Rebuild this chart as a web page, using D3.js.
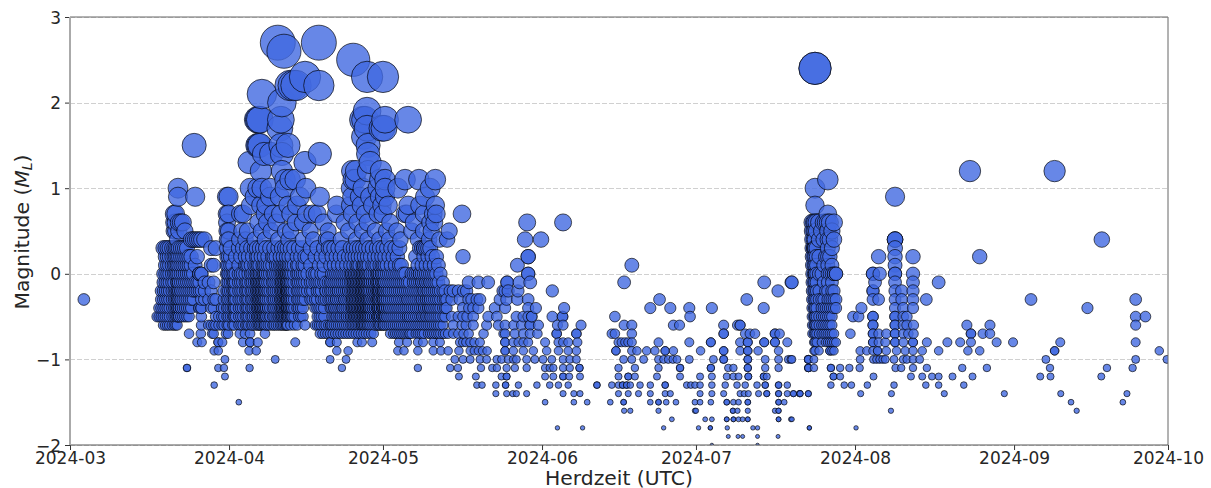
<!DOCTYPE html>
<html><head><meta charset="utf-8">
<script src="https://cdn.jsdelivr.net/npm/d3@7"></script>
<style>html,body{margin:0;padding:0;background:#fff}svg{display:block}text{font-family:"DejaVu Sans",sans-serif;fill:#262626}</style>
</head><body><svg id="c" width="1211" height="488"></svg>
<script>
// Values. Time = days since 2024-03-01, magnitude = tenths of M_L.
const monthTicks = ["2024-03","2024-04","2024-05","2024-06","2024-07","2024-08","2024-09","2024-10"];
const magnitudeTicks = [3,2,1,0,-1,-2];

// Columns: [day, magnitudes…]
const marchColumns = [
[2.7,-3],[17.0,-5],[17.4,-5,-4],[17.8,-5,-4,-3,-2],
[18.2,-6,-5,-4,-3,-2,-1,0,3],[18.6,-6,-5,-4,-3,-2,-1,0,1,2,3],[19.0,-6,-5,-4,-3,-2,-1,0,1,2,3],
[19.4,-6,-5,-4,-3,-2,-1,0,1,2,3],[19.9,-6,-5,-4,-3,-2,-1,0,1,2,3],[20.3,-6,-5,-4,-3,-2,-1,0,1,2,3,5,6,7],
[20.6,-6,-5,-4,-3,-2,0,1,2,3,5,6,7],[20.9,-6,-5,-5,-4,-4,-3,-3,-2,-2,-1,-1,0,1,2,3,4],
[21.2,-5,-5,-4,-4,-3,-3,-2,-2,-1,-1,0,1,2,3,5,6],[21.6,-5,-4,-4,-3,-3,-2,-2,-1,0,1,2,3,6],
[22.0,-5,-4,-3,-2,-1,0,1,2,3,6],[22.4,-5,-4,-3,-2,-1,0,1,2,3,5],[22.8,-11,-11,-5,-4,-3,-2,-1,0,1,2,3],
[23.2,-5,-4,-3,-2,-1,0,1,2],[23.6,-4,-3,-2,-1,0,1,2,4],[24.0,-3,-2,-1,0,4],[24.4,-2,-1,1,4],[24.8,-2,-1,2,4],
[25.2,-4,-4,-2,-1,0,0,0,4],[25.6,-6,-5,-4,-4,-3,-2,0,0,4],[26.2,-3,-2,-1,4],[27,-6,-3,-1],[27.5,-6,-4,-2,1,3],
[28.0,-7,-6,-4,-3,-1,1],[28.4,-6,-5,-3,3],[29.0,-6,-5],[29.6,-6,-5,-4],[30.0,-6,-5,-4,-3,-2]
];
const aprilColumns = [
[30.6,-6,-5,-4,-3,-2,-1,0,1,2,3],[30.9,-6,-5,-4,-3,-2,-1,0,0,1,2],
[31.3,-5,-4,-3,-2,-1,0,1,2,3],[31.7,-6,-5,-4,-3,-2,-1,0,1],[32.0,-6,-5,-5,-4,-4,-3,-3,-2,-2,-1,-1,0],
[32.3,-5,-4,-3,-2,-1,0,2],[32.9,-6,-5,-4,-3,-2,-1,0,1,3],[33.3,-6,-5,-4,-3,-2,-1,0,2],
[33.7,-6,-5,-4,-3,-2,-1,0,3],[34.2,-6,-5,-4,-3,-2,-1,0,1,2],[34.5,-6,-5,-4,-3,-2,-1,1,3],
[34.8,-6,-5,-4,-3,-2,-1,0,1,2],[35.3,-6,-5,-4,-3,-2,-1,0,1,3],[35.6,-6,-5,-4,-3,-2,-1,0,2],
[36.0,-6,-5,-4,-3,-2,-1,0,1,3],[36.4,-6,-5,-5,-4,-4,-3,-3,-2,-2,-1,-1,0,0,1,2,3],
[36.7,-6,-5,-5,-4,-4,-3,-3,-2,-2,-1,-1,0,1,2],[37.0,-6,-6,-5,-5,-4,-4,-3,-3,-3,-2,-2,-1,-1,0,0,1,3],
[37.3,-6,-5,-5,-4,-4,-4,-3,-3,-2,-2,-2,-1,-1,0,2],[37.6,-6,-5,-5,-5,-4,-4,-3,-3,-3,-2,-2,-1,-1,0,1,3],
[37.9,-6,-6,-5,-5,-4,-4,-3,-3,-2,-2,-1,-1,0,0,1,2],[38.2,-6,-5,-5,-4,-4,-3,-3,-2,-2,-1,-1,0,0,1,3],
[38.6,-6,-5,-4,-4,-3,-2,-2,-1,0,1,2],[39.0,-6,-5,-5,-4,-3,-2,-1,0,1,3],
[39.5,-6,-5,-4,-3,-2,-1,0,1,2],[39.8,-6,-5,-4,-3,-2,-1,0,2,3],[40.2,-6,-5,-4,-3,-2,-1,0,1,2],
[40.6,-6,-5,-5,-4,-3,-2,-1,0,1,3],[41.0,-6,-5,-5,-4,-4,-3,-3,-2,-1,0,1,2],
[41.3,-6,-5,-5,-4,-4,-3,-3,-2,-2,-1,-1,0,1,3],[41.6,-6,-5,-5,-4,-4,-3,-3,-2,-2,-1,-1,0,0,1,2],
[41.9,-6,-5,-5,-4,-4,-3,-3,-3,-2,-2,-1,-1,0,0,1,1,3],[42.2,-6,-6,-5,-5,-4,-4,-4,-3,-3,-3,-2,-2,-2,-1,-1,0,0,1,2],
[42.4,-6,-5,-5,-5,-4,-4,-4,-3,-3,-3,-2,-2,-2,-1,-1,-1,0,0,1,3],[42.7,-5,-5,-4,-4,-4,-3,-3,-3,-2,-2,-2,-1,-1,0,0,1,1,2],
[43.0,-6,-5,-5,-4,-4,-3,-3,-2,-2,-1,-1,0,0,1,3],[43.3,-5,-5,-4,-4,-3,-3,-2,-2,-1,0,1,2],
[43.7,-6,-5,-4,-3,-2,-1,0,1,3],[44.3,-6,-4,-3,-2,-1,0,1,2],[44.6,-5,-4,-3,-2,-1,0,1,3],
[45.0,-5,-4,-3,-2,-1,0,2],[45.4,-5,-4,-3,-2,-1,0,1,3],[45.8,-6,-3,-2,-1,0,1,2],
[46.3,-2,-1,0,2],[46.9,-3,-2,-1,1,3],[47.3,-3,-2,-1,0],[47.8,-6,-4,-3,-1,0,2],
[48.2,-6,-5,-4,-3,-2,-1,0,3],[48.6,-6,-5,-4,-2,-1,1],[49.0,-6,-5,-4,-3,-2,-1,0,2],
[49.5,-6,-5,-4,-3,-1,0,1,3],[49.9,-6,-3,-2,-2,-1,2],[50.4,-6,-3,-2,-1,3],
[50.8,-6,-6,-4,-3,-2,-1,1,3],[51.1,-6,-5,-4,-3,-2,-1,0,2],[51.5,-6,-5,-4,-4,-3,-2,-1,0,1,3],
[51.9,-6,-5,-5,-4,-3,-3,-2,-1,0,2],[52.3,-6,-5,-4,-3,-2,-2,-1,0,1,3],[52.7,-6,-5,-5,-4,-3,-2,-1,0,2],
[53.1,-6,-5,-4,-4,-3,-2,-1,0,1,3],[53.5,-6,-5,-4,-3,-3,-2,-1,0,2],[53.9,-6,-5,-5,-4,-3,-2,-1,0,1],
[54.3,-6,-5,-4,-3,-2,-2,-1,0,2],[54.7,-6,-5,-5,-4,-3,-2,-1,0,1,3],[55.0,-6,-5,-4,-4,-3,-3,-2,-1,0,0,2],
[55.3,-6,-5,-5,-4,-4,-3,-3,-2,-2,-1,-1,0,1,3],[55.6,-6,-5,-5,-4,-4,-3,-3,-2,-2,-1,-1,0,0,2],
[55.9,-6,-5,-5,-4,-4,-3,-3,-2,-2,-1,-1,0,1,3],[56.2,-6,-5,-5,-4,-4,-3,-3,-2,-2,-1,-1,0,0,1,2],
[56.5,-6,-5,-5,-4,-4,-3,-3,-2,-2,-1,-1,0,1,3],[56.8,-6,-6,-5,-5,-4,-4,-4,-3,-3,-3,-2,-2,-2,-1,-1,0,0,2],
[57.1,-6,-6,-5,-5,-5,-4,-4,-4,-3,-3,-3,-2,-2,-2,-1,-1,-1,0,0,1,3],[57.4,-6,-6,-5,-5,-5,-4,-4,-4,-3,-3,-3,-2,-2,-2,-1,-1,-1,0,0,1,1,2],
[57.7,-6,-5,-5,-5,-4,-4,-4,-3,-3,-3,-2,-2,-2,-1,-1,-1,0,0,1,3],[58.0,-6,-6,-5,-5,-5,-4,-4,-4,-3,-3,-3,-2,-2,-1,-1,0,0,1,2],
[58.3,-6,-5,-5,-4,-4,-4,-3,-3,-3,-2,-2,-1,-1,0,1,3],[58.6,-6,-5,-5,-4,-4,-3,-3,-2,-1,-1,0,0,2],
[59.0,-6,-5,-5,-4,-4,-3,-3,-2,-2,-1,-1,0,1,3],[59.4,-6,-5,-5,-4,-4,-3,-3,-2,-2,-1,-1,0,1,2],[59.8,-6,-5,-5,-5,-4,-4,-3,-3,-3,-2,-2,-1,-1,0,1,3],
[60.1,-6,-5,-5,-5,-4,-4,-4,-3,-3,-3,-2,-2,-2,-1,-1,0,0,2],[60.4,-6,-6,-5,-5,-5,-4,-4,-4,-3,-3,-3,-2,-2,-2,-1,-1,-1,0,0,1,3]
];
const mayColumns = [
[60.8,-6,-5,-5,-5,-4,-4,-4,-3,-3,-3,-2,-2,-2,-1,-1,0,0,1,2],[61.1,-6,-6,-5,-5,-5,-4,-4,-4,-3,-3,-3,-2,-2,-2,-1,-1,0,1,3],
[61.4,-6,-5,-5,-5,-4,-4,-4,-3,-3,-2,-2,-1,-1,0,1,2],[61.8,-6,-5,-5,-4,-4,-3,-3,-2,-2,-1,0,1,3],[62.2,-6,-5,-4,-4,-3,-2,-2,-1,0,2],
[62.6,-6,-5,-4,-3,-2,-1,0,1,3],[63.0,-6,-5,-4,-3,-2,-1,0,2],[63.4,-6,-5,-4,-3,-2,-1,0,1,3],
[63.8,-7,-6,-5,-4,-3,-2,-1,0,2],[64.2,-7,-6,-5,-4,-3,-2,-1,0,1,3],[64.6,-7,-6,-5,-4,-3,-2,-1,0,1],
[65.0,-7,-6,-5,-4,-3,-2,-1,0],[65.4,-7,-6,-5,-4,-3,-2,-1,0],[65.8,-7,-6,-5,-5,-4,-3,-3,-2,-1],
[66.2,-7,-7,-6,-5,-5,-4,-3,-2,-1],[66.6,-7,-6,-5,-4,-3,-2,0],[67.0,-6,-5,-4,-3,-2,-1,0],
[67.4,-7,-6,-5,-4,-3,-2,-1,0,2],[67.8,-7,-6,-5,-4,-3,-2,-1,0,1],[68.2,-7,-6,-5,-4,-3,-2,-1,0,0,3],
[68.6,-7,-6,-5,-5,-4,-3,-3,-2,-1,-1,0,1,3],[69.0,-7,-6,-5,-4,-4,-3,-2,-2,-1,0,2,3,3],[69.4,-6,-5,-5,-4,-3,-3,-2,-1,-1,0,1,3],
[69.8,-7,-6,-5,-4,-4,-3,-3,-2,-2,-1,0,2,3],[70.2,-7,-6,-5,-5,-4,-4,-3,-3,-2,-1,-1,0,1,3],[70.6,-7,-6,-5,-4,-3,-2,-1,0,2],
[71.0,-7,-6,-5,-4,-3,-2,-1,0,1],[71.4,-7,-6,-5,-4,-3,-2,-1,0,2],[71.8,-7,-6,-5,-4,-3,-2,-1,1],
[72.2,-7,-6,-5,-4,-3,-2,0],[72.7,-7,-6,-5,-4,-3,-2,-1],[73.1,-7,-5,-4,-3,-2]
];

// Rows: [magnitude, days…]
const upperSpringRows = [
[9,30.6,30.9,36,39,40.9,44.8,48.7,55,56.5,58.5,60.4,61.4,69.2],
[8,35.2,37.2,38.2,42.5,44.2,52,54.7,56.8,59,60.8,62,65.9,68.2,71.2],
[7,30.6,30.9,33.2,33.7,38,39.6,41,43,46,47.3,48.2,51.9,55,57.5,60,61,65.3,65.7,69,70.8,71.4],
[6,30.6,36.7,38.4,40.2,44,45.4,49.4,53.5,56,58,62.4,67,70.2,71],
[5,30.6,30.9,33.5,34.6,37.3,39.2,42,43,46.8,50.3,54.3,57,59.5,61.7,63.7,66.6,68.9,70.4],
[4,30.6,30.9,33,34.2,36,38,40.6,42.6,45.4,47.4,49.9,50.3,52.8,55.8,58,60.3,62.2,64.4,67.8,70,72]
];
const largeEventsRows = [
[27,40.5,48.5],[26,41.7],[25,55.2],[23,45.8,57.9,61],[22,42.9,43.5,44.05,48.5],[21,37.4],[20,41.3],[19,57.9],
[18,36.6,36.8,37,41.1,57.1,57.5,61.4,65.9],[17,40.9,57.9,60.8,61.2],[16,57.3],[15,24.2,36.6,36.8,37,41.1,42.5,58.1],
[14,37.8,39.2,41.3,48.7,58.1],[13,34.9,45.8,58.5],[12,37.2,41.3,55,55.75,58.1,60.6],
[11,41.9,42.9,43.9,55.2,55.6,60.4,61.4,65.3,68,71.2],[10,21.05,35.1,36.6,37.4,39,41.9,46,54.8,57.1,60,61.4,63.9,70.2],
[9,21.05,24.4]
];
const springLowRows = [
[-7,23.2,25.5,27.7,30.4,30.8,33.1,34.1,35.1,38,48.7,49.2,49.7,50.2,50.7,51.2,51.7,52.2,52.7,53.2,53.7,54.2,54.7,55.2,55.7,56.2,56.7,57.2,57.7,58.2,58.7,59.2,62.4,63,63.4],
[-8,24.8,25.7,28.9,28.9,29.7,33.7,35.1,35.1,36.6,43.9,50.7,50.7,52,56,56.9,58.9,64.1,65.7,67.8,68.8,70.8,72.1,76,76.6,77.2,78,78.8,79.9],
[-9,28.1,28.9,34.9,36.3,52,54.2,63.9,65.1,67.8,70.8,72.3,73.7,75.8,78,78.8,79.6,80.4,81.3],
[-10,30.2,40,50.7,53.8,75,76.6,78,79.9,81.2,83.2],
[-11,28.9,30,35,53,67.8,74.1,75.6,80.1,82.3,83.2],
[-12,30.2,75.8,79.1],[-13,28.1,79.3,80.3,83],[-14,83],[-15,32.9],
[7,76.4],[5,73.9],[4,73.5],[2,76.6],[-1,77.7,79.6,81.5],[-2,74.1,74.7,75.7,76.7,77.3,84.8],
[-3,73.4,74.4,76,77.7,78.3,79.3,79.9,83.8],[-4,73.4,76.6,77.8,78.6,79.6,82.8],[-5,74.4,75.7,76.6,77.4,78.6,81.5,83.2],
[-6,74.7,76.4,77.2,78.6,81.2,83.5],[-7,73.7,74.7,75.7,76.7,77.7,80.6,84.5]
];
const lateMayJuneRows = [
[6,89.1,96.1],[4,88.7,91.8],[2,89.3,89.3],[1,87.2],[0,89.3,89.3],[-1,85.2,85.2,87.6,89.7],[-2,84.4,85.4,87.3,94],
[-3,85.1,87.2,89.3],[-4,84.8,89.3,90.8,96.3],[-5,87,88.35,89.3,90,90,94,96,96],[-6,84.8,86.5,88,89.65,89.65,91.3,95,96.1,99.6],
[-7,84.8,86.7,88.35,89.65,91.1,94.85,94.85,98.7,98.7],[-8,84.8,84.8,86.4,87.4,88.35,89.3,92.6,95.2,96.1,97.1,98.9],
[-9,84.8,84.8,86.4,88.35,90.3,92.9,95.2,97.1,98.7],[-10,84.1,85.4,86.4,87,89,90.6,92.2,93.9,96.1,97.4,98.7],
[-11,85.1,86.7,89,92.6,93.5,94.2,96.1,97.4,99.3,99.3],[-12,84.1,85.1,85.1,92.6,94.2,96.1,96.1,97.3,99.4],
[-13,84.9,84.9,87.4,91,93.5,95.2,97.1],[-14,85.1,86.3,87,89,96.1,98.2,99.4],[-15,92.6,98.2,100.8],[-18,95,99.9]
];
const summerRows = [
[1,109.5],[-1,108,135.3,140.6],[-2,138],[-3,114.9,131.9],[-4,113.1,117,120.7,125.1,135.2],[-5,106.2,120.85],
[-6,108,109.5,117.6,118.8,127.4,130.1,130.6,130.6],
[-7,105.6,106.2,109.5,127.4,127.4,131.6,132.5,133.5,137.4,137.4,138.3],
[-8,106.9,107.5,108.2,108.8,109.5,114.7,120.7,124.9,124.9,130.6,132.1,132.1,135.3,135.3,137.4,137.4,139.8],
[-9,106.4,106.4,109.5,110.5,112.4,114,116,116,117.6,122.9,127.4,127.4,130.6,132.1,132.1,134.1,138.1],
[-10,107.9,109.5,111.8,114.7,115.7,116.6,117.5,118.3,120.7,125.4,127.4,127.4,132.1,132.1,135.5,138.1,140,140.5,143.9,143.9],
[-11,106.9,110.1,114.7,118.9,118.9,124.9,124.9,128.3,129.3,132.1,132.1,135.5,138.1,143.9,143.9],
[-12,106.9,108.8,108.8,110.1,114.4,118.9,122.8,125.1,128,129.3,130.3,132.2,132.2,135.2,135.2,135.8],
[-13,102.7,102.7,105.6,106.9,107.7,107.7,108.5,108.5,109.2,111.1,113.1,116,116,120.2,121,121.8,122.8,125.1,127.7,130,131.6,133.9,135.5,135.5,138.1,138.1,139.8],
[-14,106.9,108.8,110.8,113.1,116,117,122.8,125.1,127.4,130.6,131.4,132.2,134.2,135.8,135.8,138.1,138.1,139.8,141,142.2,142.2,143.9],
[-15,105.3,107.9,107.9,113.1,114.7,114.7,116.2,118.1,121.8,122.8,124.9,128,128,129.3,130.3,132.1,132.1,138.1,138.1,139.2],
[-16,108,109.2,114.7,121.8,122,129.2,129.2,130.1,132.1,137.4,138.1,138.1],
[-17,117.3,123.8,125.1,128,128,129.3,129.3,130.3,131.1,132.1,132.1,138.1,138.1,140.5],
[-18,115.7,122.5,124.8,124.8,128.1,133.1,134,144.1],[-19,128.3,130.2,131.1,134,138],[-20,125.1,134]
];
const lateJulyColumns = [
[144.7,6,5,4,3,2,1,0,-1,-2,-3,-4,-5,-6,-7],[145.0,6,5,4,3,3,2,1,0,-1,-2,-3,-4,-5,-6,-7,-8,-9],
[145.2,24,24,10,8,6,5,4,3,3,2,1,0,0,-1,-2,-3,-4,-5,-5,-6,-6,-7,-8,-9],[145.5,6,5,3,2,1,0,-1,-2,-3,-4,-5,-6,-7,-8],
[146.0,6,4,2,0,-2,-3,-5,-6,-7,-9],[146.5,5,0,-3,-4,-5,-6,-7,-8],[146.9,6,4,1,-1,-3,-4,-5,-6,-7],
[147.3,6,2,-2,-4,-5,-6,-7,-8],[147.7,11,7,6,5,4,3,2,1,0,-1,-2,-3,-4,-5,-6,-7,-8],[148.1,6,4,2,0,-3,-4,-5,-6,-7,-8,-9,-9],
[148.5,5,3,1,0,-1,-2,-3,-4,-5,-6,-7,-8,-9],[148.9,6,4,0,0,-2,-3,-4,-7,-8,-9],[149.3,0,0,-3,-4,-8]
];
const autumnRows = [
[12,175.4,191.9],[9,160.8],[4,160.8,160.8,160.8,201.1],[3,160.8],[2,157.6,160.8,164.3,177.3],[1,160.8],
[0,156.5,156.5,157.8,160.8,160.8,164.3],[-1,140.7,156.9,160.8,164.3,169.3],[-2,156.5,156.5,160.8,162.1,164.3],
[-3,156.5,157.6,160.8,162.1,164.3,166.9,187.3,207.7],[-4,154.25,160.8,162.4,164.3,198.3],[-5,152.6,153.7,156.5,156.5,160.8,160.8,162.4,163.1,207.7,209.6],
[-6,156.5,156.5,160.8,160.8,162.4,163.1,164.4,174.8,179.3,207.7],[-7,152.1,156.5,156.5,157.6,159.1,160.8,160.8,162.4,163.4,164.4,175.6,175.6,177.9,179.3],
[-8,156.5,156.5,157.6,158.9,160.8,160.8,162.4,164.3,164.3,167,171,173.5,175.6,180.6,183.8,193,207.7],
[-9,154,155.3,156.5,157.4,157.4,159.1,161.1,162.8,164.3,166.1,169.3,175,177.3,191.9,191.9,212.3],
[-10,140.7,143.9,143.9,145,154,156.6,157.2,157.8,158.4,158.9,160.6,162.4,163.1,164.3,165.6,190.2,207.7,213.8],
[-11,143.9,143.9,145,148.3,148.3,150.1,151.9,153.9,160.9,162,164.3,167,173.9,178.7,191,202.1,207.1],
[-12,148.8,148.8,150.1,156.6,163.9,166.1,168,169.3,172,175.9,189.1,191.1,201],
[-13,148.3,150.9,152.3,155.4,160.6,166.8,169.3,174.2],[-14,141,142.3,142.3,143.9,154.1,160.1,170.4,182.1,193.1,206],
[-15,195.1,205.2],[-16,160,196.2],[-17,140.7],[-18,144.1,153.2]
];

const W = 1211, H = 488, m = {l:70, r:1168, t:17, b:445};
const t0 = Date.UTC(2024,2,1);
const x = d3.scaleUtc().domain([new Date(t0), new Date(Date.UTC(2024,9,1))]).range([m.l, m.r]);
const y = d3.scaleLinear().domain([-2,3]).range([m.b, m.t]);
const r = d3.scaleLinear().domain([-2,-1,0.4,1.2,2.7]).range([1.8,4,7.8,10.7,17.5]);

const columns = [...marchColumns, ...aprilColumns, ...mayColumns, ...lateJulyColumns]
  .flatMap(([d, ...ms]) => ms.map(v => ({d, mag: v/10})));
const rows = [...upperSpringRows, ...largeEventsRows, ...springLowRows, ...lateMayJuneRows, ...summerRows, ...autumnRows]
  .flatMap(([v, ...ds]) => ds.map(d => ({d, mag: v/10})));
const events = [...columns, ...rows].sort((a,b)=>a.d-b.d);

const svg = d3.select("#c");
svg.append("defs").append("clipPath").attr("id","plot").append("rect")
  .attr("x",m.l).attr("y",m.t).attr("width",m.r-m.l).attr("height",m.b-m.t);

// grid
svg.append("g").selectAll("line").data(magnitudeTicks).join("line")
  .attr("x1",m.l).attr("x2",m.r).attr("y1",d=>Math.round(y(d))+.5).attr("y2",d=>Math.round(y(d))+.5)
  .attr("stroke","#d0d0d0").attr("stroke-width",1).attr("stroke-dasharray","5,2");

// points
svg.append("g").attr("clip-path","url(#plot)").selectAll("circle").data(events).join("circle")
  .attr("cx",e=>x(new Date(t0+e.d*864e5))).attr("cy",e=>y(e.mag)).attr("r",e=>r(e.mag))
  .attr("fill","#4169e1").attr("fill-opacity",.8)
  .attr("stroke","#000").attr("stroke-opacity",.72).attr("stroke-width",.9);

// axes
const xAxis = d3.axisBottom(x).tickValues(monthTicks.map(s=>new Date(s+"-01T00:00:00Z"))).tickFormat(d3.utcFormat("%Y-%m")).tickSize(5).tickSizeOuter(0);
const gx = svg.append("g").attr("transform",`translate(0,${m.b})`).call(xAxis);
gx.selectAll("text").attr("font-size",17).attr("dy",0).attr("y",19).style("font-family",'"DejaVu Sans"');
const yAxis = d3.axisLeft(y).tickValues(magnitudeTicks).tickFormat(d=>d<0?"\u2212"+(-d):d).tickSize(5).tickSizeOuter(0);
const gy = svg.append("g").attr("transform",`translate(${m.l},0)`).call(yAxis);
gy.selectAll("text").attr("font-size",17).attr("x",-9).attr("dy","0.36em");
svg.selectAll(".domain").remove();
svg.selectAll(".tick line").attr("stroke","#333").attr("stroke-width",1);

// spines
const spine=(a,b,c,d,col,w)=>svg.append("line").attr("x1",a).attr("y1",b).attr("x2",c).attr("y2",d).attr("stroke",col).attr("stroke-width",w);
spine(m.l,m.t,m.r,m.t,"#666",1);spine(m.r,m.t,m.r,m.b,"#666",1);spine(m.l,m.b,m.r,m.b,"#555",1);spine(m.l,m.t,m.l,m.b,"#aaa",2);

// labels
svg.append("text").attr("x",619).attr("y",484.5).attr("text-anchor","middle").attr("font-size",20.3).text("Herdzeit (UTC)");
const yl = svg.append("text").attr("transform","translate(29,232) rotate(-90)").attr("text-anchor","middle").attr("font-size",20.3);
yl.append("tspan").text("Magnitude (");
yl.append("tspan").attr("font-style","italic").text("M");
yl.append("tspan").attr("font-style","italic").attr("font-size",14).attr("dy",3).text("L");
yl.append("tspan").attr("dy",-3).text(")");
</script></body></html>
